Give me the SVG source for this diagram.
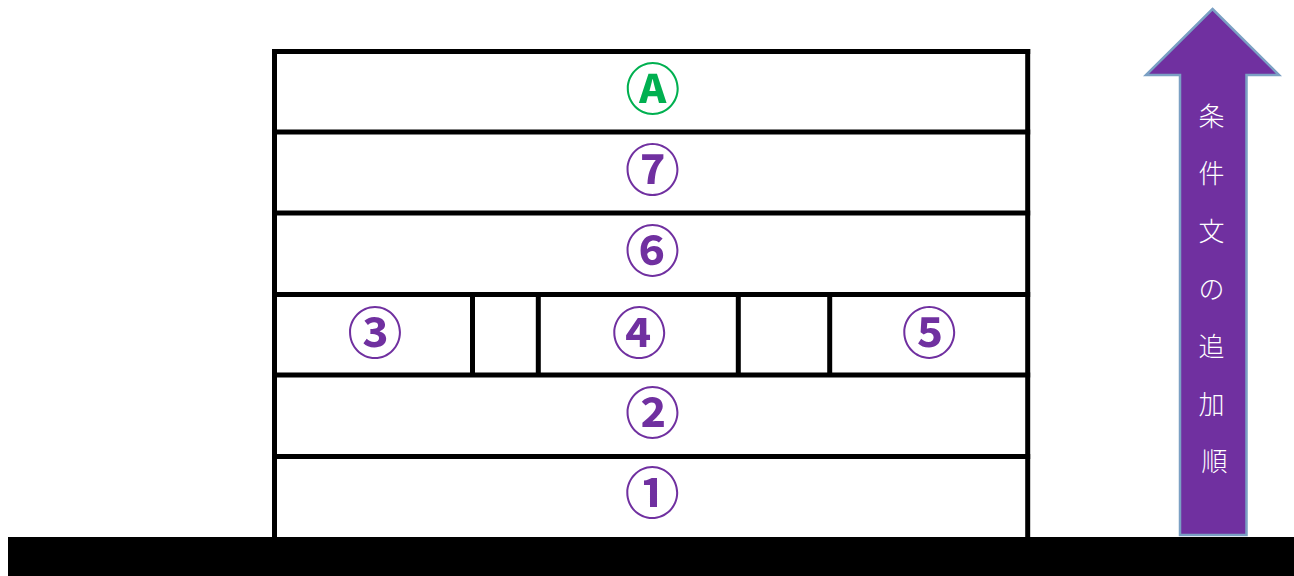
<svg xmlns="http://www.w3.org/2000/svg" width="1294" height="576" viewBox="0 0 1294 576">
<style>
.wall{fill:none;stroke:#000;stroke-width:5}
.num{font-family:"Noto Sans CJK JP","Noto Sans",sans-serif;font-weight:700;font-size:55px;text-anchor:middle;dominant-baseline:central;fill:#7030A0}
.green{fill:#00B050}
.lbl{font-family:"Noto Sans CJK JP",sans-serif;font-weight:300;font-size:26px;text-anchor:middle;dominant-baseline:central;fill:#fff}
</style>
<rect x="0" y="0" width="1294" height="576" fill="#fff"/>
<g id="ground"><rect x="8" y="537" width="1286" height="39" fill="#000"/></g>
<g id="building">
<line class="wall" x1="274.5" y1="49" x2="274.5" y2="537"/>
<line class="wall" x1="1027.7" y1="49" x2="1027.7" y2="537"/>
<line class="wall" x1="272" y1="51.5" x2="1030.2" y2="51.5"/>
<line class="wall" x1="272" y1="132" x2="1030.2" y2="132"/>
<line class="wall" x1="272" y1="213" x2="1030.2" y2="213"/>
<line class="wall" x1="272" y1="294.5" x2="1030.2" y2="294.5"/>
<line class="wall" x1="272" y1="375" x2="1030.2" y2="375"/>
<line class="wall" x1="272" y1="456.5" x2="1030.2" y2="456.5"/>
<line class="wall" x1="472.5" y1="294.5" x2="472.5" y2="375"/>
<line class="wall" x1="538.3" y1="294.5" x2="538.3" y2="375"/>
<line class="wall" x1="738.3" y1="294.5" x2="738.3" y2="375"/>
<line class="wall" x1="829.7" y1="294.5" x2="829.7" y2="375"/>
</g>
<g id="node-A"><text class="num green" x="652.7" y="85">Ⓐ</text></g>
<g id="node-7"><text class="num" x="652.5" y="166">⑦</text></g>
<g id="node-6"><text class="num" x="652.5" y="247">⑥</text></g>
<g id="node-3"><text class="num" x="375" y="328.5">③</text></g>
<g id="node-4"><text class="num" x="639.3" y="328.5">④</text></g>
<g id="node-5"><text class="num" x="929.3" y="328.5">⑤</text></g>
<g id="node-2"><text class="num" x="652.5" y="408.5">②</text></g>
<g id="node-1"><text class="num" x="652.3" y="489">①</text></g>
<g id="arrow">
<polygon points="1212.5,9 1279,75 1246.5,75 1246.5,535 1180,535 1180,75 1146,75" fill="#7030A0" stroke="#7BA0C4" stroke-width="2.5" stroke-linejoin="miter"/>
<text class="lbl">
<tspan x="1214.5" y="113.5">条</tspan>
<tspan x="1214.5" y="171">件</tspan>
<tspan x="1214.5" y="228.5">文</tspan>
<tspan x="1214.5" y="286.5">の</tspan>
<tspan x="1214.5" y="344">追</tspan>
<tspan x="1214.5" y="401.5">加</tspan>
<tspan x="1214.5" y="459">順</tspan>
</text>
</g>
</svg>
